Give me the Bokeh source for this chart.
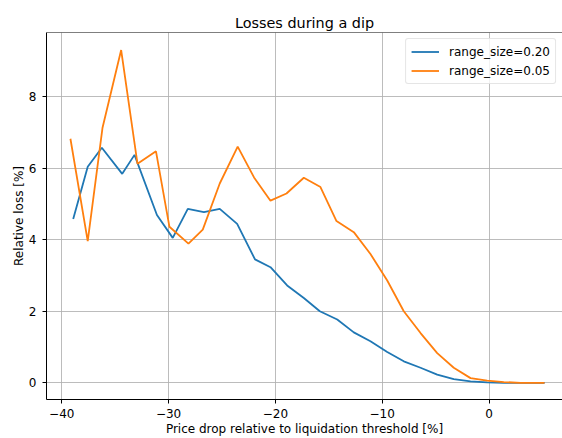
from bokeh.plotting import figure
from bokeh.models import Range1d, FixedTicker, Legend, LegendItem, Span
from bokeh.embed import file_html
from bokeh.resources import INLINE

# ---- data ----
x_020 = [-38.93, -37.57, -36.25, -34.34, -33.19, -31.09, -29.61, -28.20, -26.69, -25.21,
         -23.58, -21.91, -20.46, -18.90, -17.34, -15.84, -14.21, -12.66, -11.10, -9.53,
         -7.98, -6.41, -4.85, -3.30, -1.73, -0.17, 1.39, 2.95, 5.20]
y_020 = [4.58, 6.04, 6.57, 5.84, 6.37, 4.69, 4.05, 4.86, 4.77, 4.86,
         4.44, 3.45, 3.23, 2.72, 2.37, 2.00, 1.77, 1.41, 1.16, 0.86,
         0.60, 0.42, 0.23, 0.10, 0.04, 0.01, 0.00, 0.00, 0.00]

x_005 = [-39.19, -37.57, -36.19, -34.44, -32.91, -31.18, -29.92, -28.14, -26.80, -25.21,
         -23.53, -22.00, -20.46, -18.96, -17.34, -15.78, -14.28, -12.66, -11.10, -9.53,
         -7.98, -6.41, -4.85, -3.30, -1.73, -0.17, 1.39, 2.95, 5.20]
y_005 = [6.82, 3.96, 7.12, 9.30, 6.12, 6.47, 4.36, 3.89, 4.28, 5.57,
         6.60, 5.74, 5.09, 5.29, 5.73, 5.47, 4.52, 4.21, 3.60, 2.86,
         2.00, 1.39, 0.83, 0.42, 0.13, 0.06, 0.02, 0.00, 0.00]

series_labels = ["range_size=0.20", "range_size=0.05"]
x_ticks = [-40, -30, -20, -10, 0]
x_tick_labels = ["\u221240", "\u221230", "\u221220", "\u221210", "0"]
y_ticks = [0, 2, 4, 6, 8]
y_tick_labels = ["0", "2", "4", "6", "8"]

FONT = "DejaVu Sans"

p = figure(width=562, height=438, output_backend="svg", toolbar_location=None,
           x_range=Range1d(-41.43, 6.88), y_range=Range1d(-0.467, 9.79),
           min_border_left=46, min_border_right=0, min_border_top=32, min_border_bottom=10)

p.title.text = "Losses during a dip"
p.title.align = "center"
p.title.text_font = FONT
p.title.text_font_size = "14.4px"
p.title.text_font_style = "normal"
p.title.text_color = "black"
p.title.standoff = 4
p.title.offset = 4

p.background_fill_color = "white"
p.border_fill_color = "white"
p.outline_line_color = None

# axes
for ax in (p.xaxis[0], p.yaxis[0]):
    ax.axis_line_color = "black"
    ax.axis_line_width = 1
    ax.major_tick_line_color = "black"
    ax.major_tick_line_width = 1
    ax.major_tick_out = 4
    ax.major_tick_in = 0
    ax.minor_tick_line_color = None
    ax.major_label_text_font = FONT
    ax.major_label_text_font_size = "12px"
    ax.major_label_text_color = "black"
    ax.axis_label_text_font = FONT
    ax.axis_label_text_font_size = "12px"
    ax.axis_label_text_font_style = "normal"
    ax.axis_label_text_color = "black"

p.xaxis.ticker = FixedTicker(ticks=x_ticks)
p.xaxis.major_label_overrides = dict(zip(x_ticks, x_tick_labels))
p.yaxis.ticker = FixedTicker(ticks=y_ticks)
p.yaxis.major_label_overrides = dict(zip(y_ticks, y_tick_labels))
p.xaxis.axis_label = "Price drop relative to liquidation threshold [%]"
p.yaxis.axis_label = "Relative loss [%]"
p.xaxis.major_label_standoff = 5
p.xaxis.axis_label_standoff = 1
p.yaxis.major_label_standoff = 6
p.yaxis.axis_label_standoff = 0

# grid
p.xgrid.ticker = FixedTicker(ticks=x_ticks)
p.ygrid.ticker = FixedTicker(ticks=y_ticks)
for g in (p.xgrid[0], p.ygrid[0]):
    g.grid_line_color = "#b0b0b0"
    g.grid_line_width = 1
    g.grid_line_alpha = 0.85

# top frame line
p.add_layout(Span(location=9.79, dimension="width", line_color="black", line_width=1))

r1 = p.line(x_020, y_020, line_color="#1f77b4", line_width=1.8)
r2 = p.line(x_005, y_005, line_color="#ff7f0e", line_width=1.8)

legend = Legend(items=[LegendItem(label=series_labels[0], renderers=[r1]),
                       LegendItem(label=series_labels[1], renderers=[r2])],
                location="top_right")
legend.label_text_font = FONT
legend.label_text_font_size = "12px"
legend.label_text_color = "black"
legend.glyph_width = 28
legend.glyph_height = 15
legend.label_height = 15
legend.label_standoff = 10
legend.spacing = 4
legend.padding = 5
legend.margin = 6
legend.border_line_color = "#cccccc"
legend.border_line_width = 1
legend.border_radius = 3
legend.background_fill_color = "white"
legend.background_fill_alpha = 0.8
p.add_layout(legend)

open("out.html", "w").write(file_html(p, INLINE))
